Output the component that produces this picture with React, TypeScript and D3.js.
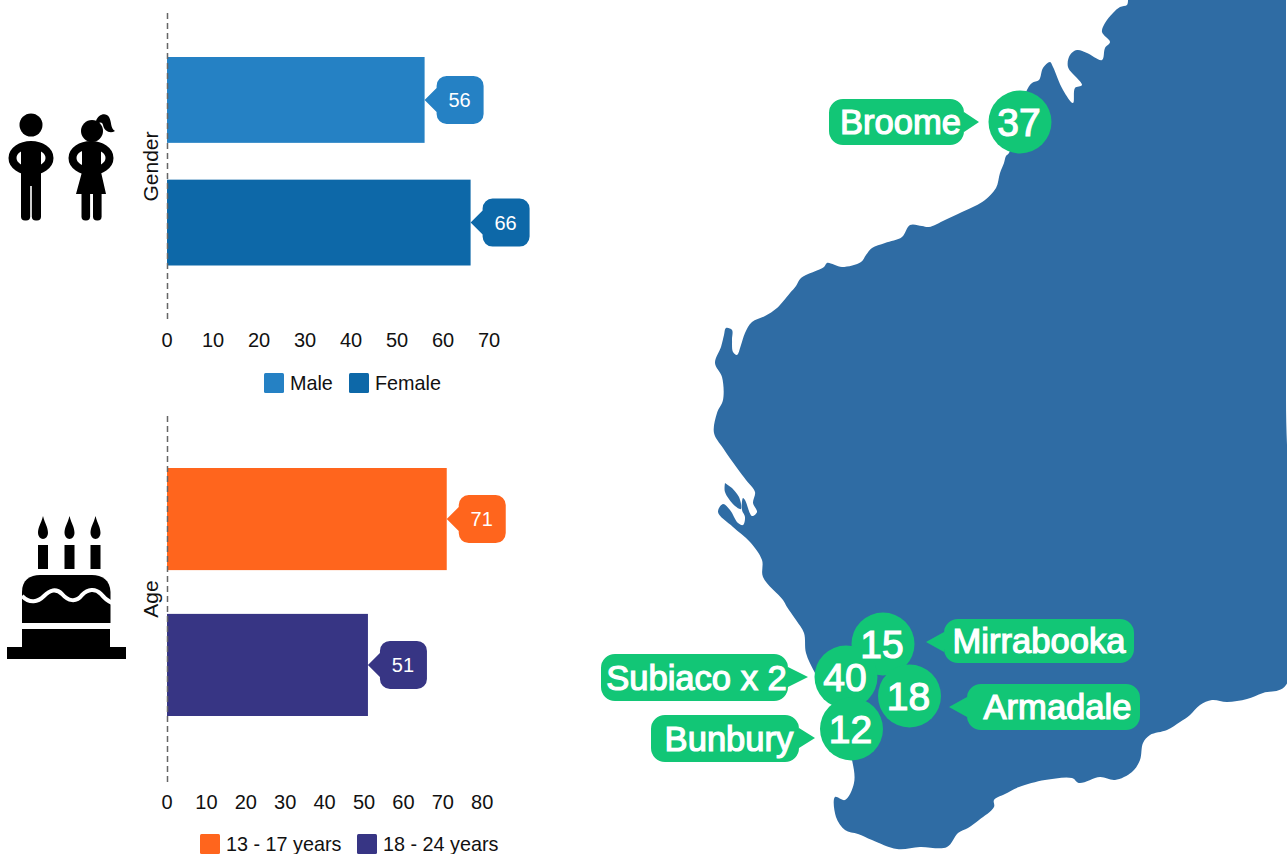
import React, { useEffect, useRef } from "react";
import * as d3 from "d3";

// bar charts
const genderLabels = ["Male", "Female"];
const genderValues = [56, 66];
const genderColors = ["#2581c4", "#0d68a8"];
const genderTicks = [0, 10, 20, 30, 40, 50, 60, 70];

const ageLabels = ["13 - 17 years", "18 - 24 years"];
const ageValues = [71, 51];
const ageColors = ["#ff651d", "#373584"];
const ageTicks = [0, 10, 20, 30, 40, 50, 60, 70, 80];

// map callouts
const siteNames = ["Broome", "Mirrabooka", "Subiaco x 2", "Armadale", "Bunbury"];
const siteCounts = [37, 15, 40, 18, 12];
const siteCentres = [[1020, 122], [883, 644], [846, 677], [909.5, 696], [851.5, 729]];
const siteBoxes = [
  [829, 99, 964, 145, 979, 122],
  [944, 619, 1134, 663, 926, 642],
  [601, 654, 788, 701, 808, 677],
  [967, 684, 1140, 730, 949, 707],
  [651, 715, 799, 762, 815, 738],
];
const siteTextShift = [4, 0, 2, 4, 4];

// traced outline of the WA coast, in picture pixels
const coast: [number, number][] = [
  [1128, 0], [1127, 5], [1120, 7], [1113, 13], [1105, 23], [1102, 32], [1110, 42], [1105, 48], [1102, 60],
  [1087, 53], [1077, 50], [1070, 55], [1068, 67], [1082, 85], [1075, 88], [1073, 103], [1063, 90], [1053, 67],
  [1050, 62], [1043, 68], [1039, 80], [1032, 83], [1026, 92], [1009, 153], [1006, 156], [1004, 163], [1000, 173],
  [996, 188], [985, 200], [975, 206], [962, 212], [945, 220], [929, 227], [922, 226], [910, 225], [902, 237],
  [885, 243], [872, 248], [866, 255], [861, 262], [842, 267], [827, 263], [824, 267], [801, 278], [796, 286],
  [790, 293], [777, 308], [765, 316], [752, 322], [745, 333], [741, 345], [737, 355], [733, 352], [732, 340],
  [732, 330], [726, 328], [724, 335], [721, 347], [715, 363], [722, 377], [723, 400], [717, 413], [714, 433],
  [723, 448], [737, 468], [746, 480], [755, 492], [753, 503], [757, 512], [752, 516], [745, 500], [743, 498],
  [742, 510], [745, 517], [743, 525], [738, 523], [730, 510], [723, 504], [718, 512], [733, 527], [750, 542],
  [762, 560], [763, 577], [783, 600], [787, 607], [796, 620], [804, 633], [806, 653], [815, 673], [833, 705],
  [852, 760], [854, 783], [845, 800], [835, 797], [836, 817], [845, 830], [858, 834], [872, 840], [897, 849],
  [920, 847], [947, 847], [958, 833], [968, 828], [979, 820], [994, 807], [994, 800], [1005, 794], [1019, 787],
  [1045, 780], [1072, 778], [1079, 783], [1100, 777], [1115, 780], [1132, 772], [1140, 760], [1143, 743],
  [1150, 735], [1167, 730], [1180, 722], [1190, 715], [1200, 705], [1212, 700], [1227, 702], [1247, 699],
  [1263, 693], [1286, 685], [1286, 400], [1286, 0],
];
const island: [number, number][] = [[725, 483], [725, 492], [735, 506], [741, 509], [739, 497], [732, 488]];

const mapBlue = "#2f6ca4";
const green = "#12c676";
const sans = "'Liberation Sans', Arial, sans-serif";

// rounded box with a pointer on its left or right side
function calloutPath(x0, y0, x1, y1, r, tipX, tipY, half) {
  const p = d3.path();
  p.moveTo(x0 + r, y0);
  p.lineTo(x1 - r, y0);
  p.arcTo(x1, y0, x1, y0 + r, r);
  if (tipX > x1) {
    p.lineTo(x1, tipY - half);
    p.lineTo(tipX, tipY);
    p.lineTo(x1, tipY + half);
  }
  p.lineTo(x1, y1 - r);
  p.arcTo(x1, y1, x1 - r, y1, r);
  p.lineTo(x0 + r, y1);
  p.arcTo(x0, y1, x0, y1 - r, r);
  if (tipX < x0) {
    p.lineTo(x0, tipY + half);
    p.lineTo(tipX, tipY);
    p.lineTo(x0, tipY - half);
  }
  p.lineTo(x0, y0 + r);
  p.arcTo(x0, y0, x0 + r, y0, r);
  p.closePath();
  return p.toString();
}

function drawBars(svg, opt) {
  const { labels, values, colors, ticks, title, unit, top, bottom, barTop, barBottom, legend } = opt;
  const x = d3.scaleLinear().domain([0, 1]).range([167, 167 + unit]);
  const y = d3.scaleBand().domain(labels).range([barTop, barBottom]).paddingInner(0.3);
  const g = svg.append("g").style("font-family", sans);

  g.selectAll("rect.bar")
    .data(labels)
    .join("rect")
    .attr("class", "bar")
    .attr("x", x(0))
    .attr("y", (d) => y(d))
    .attr("width", (d, i) => x(values[i]) - x(0))
    .attr("height", y.bandwidth())
    .attr("fill", (d, i) => colors[i]);

  g.append("line")
    .attr("x1", x(0) + 0.5)
    .attr("x2", x(0) + 0.5)
    .attr("y1", top)
    .attr("y2", bottom)
    .attr("stroke", "#666")
    .attr("stroke-width", 1.5)
    .attr("stroke-dasharray", "6,4");

  // value callouts
  labels.forEach((d, i) => {
    const cy = y(d) + y.bandwidth() / 2;
    const tip = x(values[i]);
    g.append("path")
      .attr("d", calloutPath(tip + 12, cy - 24, tip + 59, cy + 24, 10, tip, cy, 12))
      .attr("fill", colors[i]);
    g.append("text")
      .attr("x", tip + 35)
      .attr("y", cy + 7)
      .attr("text-anchor", "middle")
      .attr("fill", "#fff")
      .style("font-size", "20px")
      .text(values[i]);
  });

  const axis = g
    .append("g")
    .attr("transform", `translate(-0.5,${bottom})`)
    .call(d3.axisBottom(x).tickValues(ticks).tickFormat(d3.format("d")).tickSize(0).tickPadding(13));
  axis.select(".domain").remove();
  axis.selectAll("text").attr("fill", "#111").style("font-size", "20px").style("font-family", sans);

  g.append("text")
    .attr("transform", `translate(158,${(top + bottom) / 2}) rotate(-90)`)
    .attr("text-anchor", "middle")
    .attr("fill", "#111")
    .style("font-size", "21px")
    .text(title);

  // legend
  labels.forEach((d, i) => {
    const lx = legend.x[i];
    g.append("rect")
      .attr("x", lx)
      .attr("y", legend.y)
      .attr("width", 20)
      .attr("height", 20)
      .attr("rx", 1.5)
      .attr("fill", colors[i]);
    g.append("text")
      .attr("x", lx + 26)
      .attr("y", legend.y + 17)
      .attr("fill", "#111")
      .style("font-size", "19.8px")
      .text(d);
  });
}

function drawMap(svg) {
  const outline = d3.line().curve(d3.curveCatmullRom.alpha(0.5));
  svg.append("path").attr("d", outline(coast) + "Z").attr("fill", mapBlue);
  svg.append("path").attr("d", outline(island) + "Z").attr("fill", mapBlue);

  const g = svg.append("g").style("font-family", sans).attr("fill", "#fff");

  siteNames.forEach((name, i) => {
    const [x0, y0, x1, y1, tx, ty] = siteBoxes[i];
    g.append("path").attr("d", calloutPath(x0, y0, x1, y1, 14, tx, ty, 10)).attr("fill", green);
    g.append("circle").attr("cx", siteCentres[i][0]).attr("cy", siteCentres[i][1]).attr("r", 31.5).attr("fill", green);
  });

  siteNames.forEach((name, i) => {
    const [x0, y0, x1, y1] = siteBoxes[i];
    g.append("text")
      .attr("x", (x0 + x1) / 2 + siteTextShift[i])
      .attr("y", (y0 + y1) / 2 + 12)
      .attr("text-anchor", "middle")
      .attr("stroke", "#fff")
      .attr("stroke-width", 1.2)
      .style("font-size", "34.6px")
      .text(name);
    g.append("text")
      .attr("x", siteCentres[i][0] - 1)
      .attr("y", siteCentres[i][1] + 14)
      .attr("text-anchor", "middle")
      .attr("stroke", "#fff")
      .attr("stroke-width", 1.2)
      .style("font-size", "39px")
      .text(siteCounts[i]);
  });
}

function People() {
  return (
    <g fill="#000">
      {/* boy */}
      <circle cx={31} cy={125} r={11.5} />
      <ellipse cx={31} cy={158} rx={18.5} ry={13} fill="none" stroke="#000" strokeWidth={8} />
      <rect x={21} y={146} width={20} height={40} />
      <rect x={21} y={170} width={9.2} height={50.5} rx={4} />
      <rect x={31.8} y={170} width={9.2} height={50.5} rx={4} />
      {/* girl */}
      <circle cx={92} cy={131} r={11} />
      <path d="M96 121 C98 114 106 112 109 117 C112 122 110 128 115 131 C110 134 104 131 103 125 C102 122 100 122 98 124Z" />
      <ellipse cx={91} cy={158} rx={18.5} ry={13} fill="none" stroke="#000" strokeWidth={8} />
      <path d="M82 146H101V172L106 194H76L82 172Z" />
      <rect x={81.5} y={190} width={8.6} height={30.5} rx={4} />
      <rect x={93} y={190} width={8.6} height={30.5} rx={4} />
    </g>
  );
}

function Cake() {
  const flames = [43, 69.5, 95.5];
  return (
    <g fill="#000">
      {flames.map((cx) => (
        <g key={cx}>
          <path d={`M${cx} 516 C${cx + 2} 524 ${cx + 5} 527 ${cx + 5} 533 A5 6 0 0 1 ${cx - 5} 533 C${cx - 5} 527 ${cx - 2} 524 ${cx} 516Z`} />
          <rect x={cx - 5} y={545} width={10} height={24} />
        </g>
      ))}
      <path d="M22 623V592C22 580 30 575 40 575H92C102 575 110 580 110.500 592V623Z" />
      <path d="M22 596C30 604 38 602 44 596C50 590 56 588 62 594C68 601 76 603 82 595C88 589 95 588 101 594C104 598 108 601 112 603" fill="none" stroke="#fff" strokeWidth={4} />
      <rect x={22} y={629} width={88} height={18} />
      <rect x={7} y={647} width={119} height={12} />
    </g>
  );
}

export default function App() {
  const ref = useRef<SVGGElement>(null);

  useEffect(() => {
    const svg = d3.select(ref.current);
    svg.selectAll("*").remove();
    drawMap(svg);
    drawBars(svg, {
      labels: genderLabels,
      values: genderValues,
      colors: genderColors,
      ticks: genderTicks,
      title: "Gender",
      unit: 4.6,
      top: 13,
      bottom: 320,
      barTop: 57,
      barBottom: 265.5,
      legend: { x: [264, 349], y: 373 },
    });
    drawBars(svg, {
      labels: ageLabels,
      values: ageValues,
      colors: ageColors,
      ticks: ageTicks,
      title: "Age",
      unit: 3.94,
      top: 416,
      bottom: 782,
      barTop: 468,
      barBottom: 716,
      legend: { x: [200, 357], y: 834 },
    });
  }, []);

  return (
    <svg width={1287} height={854} style={{ position: "absolute", left: 0, top: 0, background: "#fff" }}>
      <People />
      <Cake />
      <g ref={ref} />
    </svg>
  );
}
